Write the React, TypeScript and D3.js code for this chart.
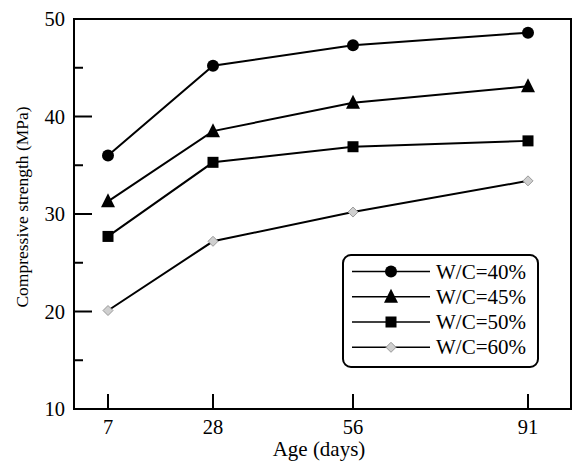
import React from "react";
import * as d3 from "d3";

const ages = [7, 28, 56, 91];
const wc40 = [36.0, 45.2, 47.3, 48.6];
const wc45 = [31.3, 38.5, 41.4, 43.1];
const wc50 = [27.7, 35.3, 36.9, 37.5];
const wc60 = [20.1, 27.2, 30.2, 33.4];
const seriesNames = ["W/C=40%", "W/C=45%", "W/C=50%", "W/C=60%"];
const yMajorTicks = [10, 20, 30, 40, 50];
const yMinorTicks = [15, 25, 35, 45];

const W = 573, H = 461;
const left = 74, right = 571, top = 19, bottom = 409;
const FONT = "'Liberation Serif', 'Times New Roman', serif";

function Marker({ kind, x, y }: { kind: number; x: number; y: number }) {
  if (kind === 0) return <circle cx={x} cy={y} r={6} fill="#000" />;
  if (kind === 1) {
    const s = 7;
    return <path d={`M${x},${y - s - 1}L${x + s},${y + s - 1}L${x - s},${y + s - 1}Z`} fill="#000" />;
  }
  if (kind === 2) return <rect x={x - 5.5} y={y - 5.5} width={11} height={11} fill="#000" />;
  const s = 5;
  return <path d={`M${x},${y - s}L${x + s},${y}L${x},${y + s}L${x - s},${y}Z`} fill="#cfcfcf" stroke="#9a9a9a" strokeWidth={1} />;
}

export default function App() {
  const x = d3.scaleLinear().domain([0, 100]).range([73, 573]);
  const y = d3.scaleLinear().domain([10, 50]).range([bottom, top]);
  const series = [wc40, wc45, wc50, wc60];
  const line = d3.line<number>().x((_, i) => x(ages[i])).y((v) => y(v));

  const legX = 343, legY = 255, legW = 195, legH = 112;
  const rowY = [271.5, 296.8, 322, 347.3];

  return (
    <svg width={W} height={H} style={{ position: "absolute", left: 0, top: 0, background: "#fff" }} fontFamily={FONT}>
      <rect x={0} y={0} width={W} height={H} fill="#fff" />
      {/* frame */}
      <rect x={left} y={top} width={right - left} height={bottom - top} fill="none" stroke="#000" strokeWidth={2} />
      {/* y ticks */}
      {yMajorTicks.map((t) => (
        <g key={"ym" + t}>
          <line x1={left} x2={left + 18} y1={y(t)} y2={y(t)} stroke="#000" strokeWidth={2} />
          <text x={65} y={y(t) + 7} textAnchor="end" fontSize={20.5}>{t}</text>
        </g>
      ))}
      {yMinorTicks.map((t) => (
        <line key={"yn" + t} x1={left} x2={left + 9} y1={y(t)} y2={y(t)} stroke="#000" strokeWidth={2} />
      ))}
      {/* x ticks */}
      {ages.map((a) => (
        <g key={"x" + a}>
          <line x1={x(a)} x2={x(a)} y1={bottom} y2={bottom - 15} stroke="#000" strokeWidth={2} />
          <text x={x(a)} y={434} textAnchor="middle" fontSize={20.5}>{a}</text>
        </g>
      ))}
      <text x={319} y={456} textAnchor="middle" fontSize={21}>Age (days)</text>
      <text transform={`translate(28,207) rotate(-90)`} textAnchor="middle" fontSize={17.5}>
        Compressive strength (MPa)
      </text>
      {/* lines */}
      {series.map((s, k) => (
        <g key={"s" + k}>
          <path d={line(s) || ""} fill="none" stroke="#000" strokeWidth={2} />
          {s.map((v, i) => (
            <Marker key={i} kind={k} x={x(ages[i])} y={y(v)} />
          ))}
        </g>
      ))}
      {/* legend */}
      <rect x={legX} y={legY} width={legW} height={legH} rx={8} ry={8} fill="#fff" stroke="#000" strokeWidth={2} />
      {seriesNames.map((n, k) => (
        <g key={"l" + k}>
          <line x1={352} x2={430} y1={rowY[k]} y2={rowY[k]} stroke="#000" strokeWidth={1.6} />
          <Marker kind={k} x={391} y={rowY[k]} />
          <text x={436} y={rowY[k] + 7} fontSize={21}>{n}</text>
        </g>
      ))}
    </svg>
  );
}
